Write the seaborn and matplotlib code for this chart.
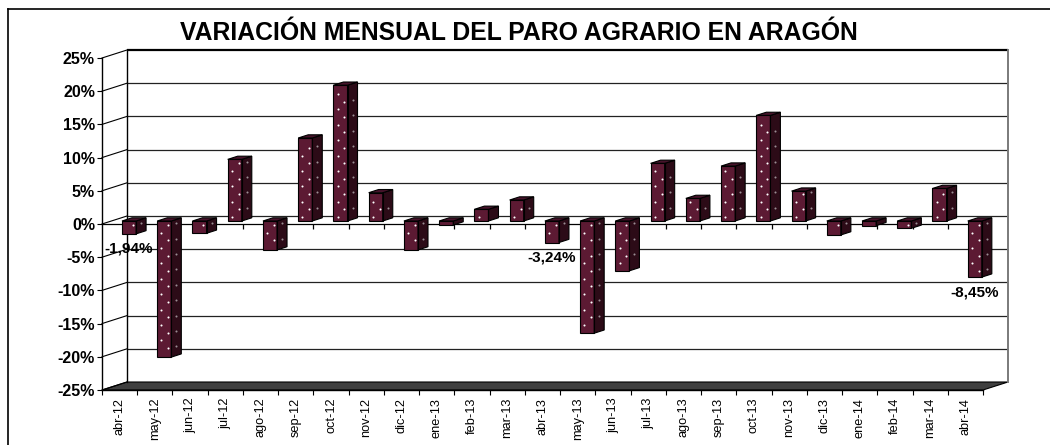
import numpy as np
import matplotlib
matplotlib.use("Agg")
import matplotlib.pyplot as plt
import seaborn as sns
from matplotlib.patches import Polygon, Rectangle
from matplotlib.lines import Line2D

# Monthly change of agricultural unemployment (%)
months = ["abr-12", "may-12", "jun-12", "jul-12", "ago-12", "sep-12", "oct-12",
          "nov-12", "dic-12", "ene-13", "feb-13", "mar-13", "abr-13", "may-13",
          "jun-13", "jul-13", "ago-13", "sep-13", "oct-13", "nov-13", "dic-13",
          "ene-14", "feb-14", "mar-14", "abr-14"]
variation = [-1.94, -20.5, -1.85, 9.28, -4.36, 12.5, 20.45, 4.26, -4.36, -0.6,
             1.76, 3.16, -3.24, -16.9, -7.5, 8.68, 3.4, 8.27, 15.9, 4.5, -2.1,
             -0.7, -1.1, 4.9, -8.45]
labelled_months = ["abr-12", "abr-13", "abr-14"]
y_ticks = [-25, -20, -15, -10, -5, 0, 5, 10, 15, 20, 25]
title = "VARIACIÓN MENSUAL DEL PARO AGRARIO EN ARAGÓN"

plt.rcParams["font.family"] = ["Liberation Sans", "DejaVu Sans"]

FRONT = "#5c1a33"
SIDE = "#2c0b17"
TOP = "#46132a"

W, H = 1050, 445
fig = plt.figure(figsize=(W / 100, H / 100), dpi=100)
fig.patch.set_facecolor("white")


def rect(x0, y_top, x1, y_bottom):
    return [x0 / W, 1 - y_bottom / H, (x1 - x0) / W, (y_bottom - y_top) / H]


# front plane of the 3D box
X0, X1, YT, YB = 102, 983, 58, 390
n = len(months)
px_x = (X1 - X0) / n
px_y = (YB - YT) / 50.0

# wall depth and bar depth (in data units)
WX, WY = 25 / px_x, 8 / px_y
BFX, BFY = 9.4, 3.0
DX, DY = 10 / px_x, 3.2 / px_y

ax = fig.add_axes(rect(X0, YT, X1, YB))
ax.set_facecolor("none")
ax.set_xlim(-0.5, n - 0.5)
ax.set_ylim(-25, 25)

# floor
ax.add_patch(Polygon([(-0.5, -25), (-0.5 + WX, -25 + WY), (n - 0.5 + WX, -25 + WY),
                      (n - 0.5, -25)], closed=True, fc="#3f3f3f", ec="black",
                     lw=0.8, clip_on=False, zorder=1))

# back wall gridlines
for t in y_ticks[1:]:
    lw = 1.6 if t == 25 else 0.9
    col = "black" if t == 25 else "#222222"
    ax.plot([-0.5 + WX, n - 0.5 + WX], [t + WY, t + WY], color=col, lw=lw,
            clip_on=False, zorder=1.5, solid_capstyle="butt")
# back wall edges
ax.plot([-0.5 + WX, -0.5 + WX], [-25 + WY, 25 + WY], color="black", lw=1.0,
        clip_on=False, zorder=1.6)
ax.plot([n - 0.5 + WX, n - 0.5 + WX], [-25 + WY, 25 + WY], color="#7a7a7a",
        lw=1.4, clip_on=False, zorder=1.6)
# side wall lines
for t in y_ticks:
    ax.plot([-0.5, -0.5 + WX], [t, t + WY], color="black", lw=0.8,
            clip_on=False, zorder=1.6)

# zero line of the front plane with its ticks
ax.plot([-0.5, n - 0.5], [0, 0], color="black", lw=0.9, zorder=2)
ax.vlines(np.arange(0.5, n - 0.5, 1), -5 / px_y, 0, color="black", lw=0.9,
          zorder=2)

for side in ["top", "right"]:
    ax.spines[side].set_visible(False)
ax.spines["left"].set_linewidth(1.0)
ax.spines["bottom"].set_linewidth(1.0)

ax.set_yticks(y_ticks)
ax.set_yticklabels([f"{t}%" for t in y_ticks], fontsize=11.5, fontweight="bold")
ax.tick_params(axis="y", direction="out", length=3.6, width=0.8, pad=1.5)

ax.set_xticks(np.arange(-0.5, n, 1))
ax.set_xticklabels([])
ax.set_xticks(np.arange(n), minor=True)
ax.set_xticklabels(months, minor=True, rotation=90, fontsize=9.2)
ax.tick_params(axis="x", which="major", direction="out", length=3.6, width=0.8)
ax.tick_params(axis="x", which="minor", length=0, pad=5.5)

# bars in their own plane, shifted into depth
axb = fig.add_axes(rect(X0 + BFX, YT - BFY, X1 + BFX, YB - BFY))
axb.set_facecolor("none")
sns.barplot(x=months, y=variation, ax=axb, color=FRONT, saturation=1,
            width=0.4, linewidth=0)
axb.set_xlim(-0.5, n - 0.5)
axb.set_ylim(-25, 25)
axb.axis("off")

step = 7.7 / px_y
margin = 2.5 / px_y
dot_front_x, dot_front_y, dot_side_x, dot_side_y = [], [], [], []
for p in list(axb.patches):
    x, w = p.get_x(), p.get_width()
    y, h = p.get_y(), p.get_height()
    lo, hi = min(y, y + h), max(y, y + h)
    side = [(x + w, lo), (x + w + DX, lo + DY), (x + w + DX, hi + DY), (x + w, hi)]
    axb.add_patch(Polygon(side, closed=True, fc=SIDE, ec="black", lw=0.8,
                          clip_on=False, zorder=3.2))
    top = [(x, hi), (x + DX, hi + DY), (x + w + DX, hi + DY), (x + w, hi)]
    axb.add_patch(Polygon(top, closed=True, fc=TOP, ec="black", lw=0.8,
                          clip_on=False, zorder=3.2))
    axb.add_patch(Rectangle((x, lo), w, hi - lo, fill=False, ec="black", lw=0.8,
                            clip_on=False, zorder=3.2))
    # dotted pattern fill of the faces
    for k in range(int(np.floor(lo / step)) - 1, int(np.ceil(hi / step)) + 1):
        yv = (k + 0.5) * step
        if lo + margin < yv < hi - margin:
            dot_front_x.append(x + w * (0.3 if k % 2 == 0 else 0.78))
            dot_front_y.append(yv)
            if k % 2 == 1:
                dot_side_x.append(x + w + DX * 0.5)
                dot_side_y.append(yv + DY * 0.5)

axb.scatter(dot_front_x, dot_front_y, s=2.2, color="white", linewidths=0,
            zorder=3.4, clip_on=False)
axb.scatter(dot_side_x, dot_side_y, s=2.2, color="#9a8d93", linewidths=0,
            zorder=3.4, clip_on=False)

# value labels
for i, (m, v) in enumerate(zip(months, variation)):
    if m in labelled_months:
        txt = f"{v:.2f}".replace(".", ",") + "%"
        axb.annotate(txt, xy=(i, v), xytext=(0, -15), textcoords="offset pixels",
                     ha="center", va="center", fontsize=11, fontweight="bold",
                     zorder=5, annotation_clip=False)

# chart frame
fig.add_artist(Line2D([8 / W, 8 / W], [0, 1 - 9 / H], transform=fig.transFigure,
                      color="black", lw=1.2))
fig.add_artist(Line2D([8 / W, 1], [1 - 9 / H, 1 - 9 / H], transform=fig.transFigure,
                      color="black", lw=1.2))

fig.text(519 / W, 1 - 32.5 / H, title, ha="center", va="center", fontsize=17.8,
         fontweight="bold")

fig.savefig("out.png", dpi=100, facecolor="white")
